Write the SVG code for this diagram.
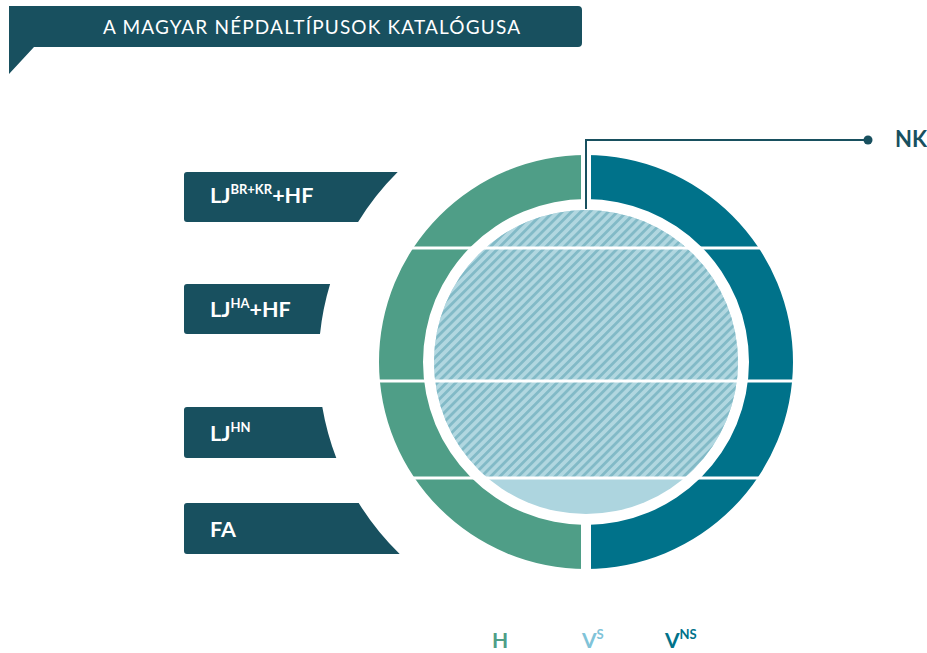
<svg xmlns="http://www.w3.org/2000/svg" width="927" height="653" viewBox="0 0 927 653">
<style>
.lbl{fill:#18505f}
.lt{font-family:Lato,"Open Sans","Liberation Sans",sans-serif;font-weight:bold;font-size:21.5px;fill:#ffffff}
.sup{font-size:13px}
.sep{fill:#ffffff}
.leg{font-family:Lato,"Open Sans","Liberation Sans",sans-serif;font-weight:bold;font-size:21px}
</style>
<defs>
<pattern id="hatch" patternUnits="userSpaceOnUse" width="6.5" height="6.5" patternTransform="rotate(45)">
<rect width="6.5" height="6.5" fill="#b1d7e0"/>
<rect x="0" y="0" width="2.8" height="6.5" fill="#82bac7"/>
</pattern>
<clipPath id="upper"><rect x="400" y="150" width="400" height="328"/></clipPath>
</defs>
<rect width="927" height="653" fill="#ffffff"/>
<g id="title">
<path d="M9,6 H578 Q582,6 582,10 V43 Q582,47 578,47 H34 L9,74 Z" fill="#18505f"/>
<text x="103" y="34" font-family="Lato,'Open Sans','Liberation Sans',sans-serif" font-size="19" fill="#ffffff" textLength="417" lengthAdjust="spacing">A MAGYAR NÉPDALTÍPUSOK KATALÓGUSA</text>
</g>
<g id="label-ljbrkr">
<path class="lbl" d="M187,172 H397.7 A267.5,267.5 0 0 0 358.1,222 H187 Q184,222 184,219 V175 Q184,172 187,172 Z"/>
<text class="lt" x="210" y="203">LJ<tspan class="sup" dy="-9">BR+KR</tspan><tspan dy="9">+HF</tspan></text>
</g>
<g id="label-ljha">
<path class="lbl" d="M187,284 H330.1 A267.5,267.5 0 0 0 320,334 H187 Q184,334 184,331 V287 Q184,284 187,284 Z"/>
<text class="lt" x="210" y="317">LJ<tspan class="sup" dy="-9">HA</tspan><tspan dy="9">+HF</tspan></text>
</g>
<g id="label-ljhn">
<path class="lbl" d="M187,407 H322.3 A267.5,267.5 0 0 0 336.3,458 H187 Q184,458 184,455 V410 Q184,407 187,407 Z"/>
<text class="lt" x="210" y="441">LJ<tspan class="sup" dy="-9">HN</tspan></text>
</g>
<g id="label-fa">
<path class="lbl" d="M187,503 H358.7 A267.5,267.5 0 0 0 399.7,554 H187 Q184,554 184,551 V506 Q184,503 187,503 Z"/>
<text class="lt" x="210" y="537">FA</text>
</g>
<g id="ring-h">
<path d="M586,155 A207,207 0 0 0 586,569 L586,525 A163,163 0 0 1 586,199 Z" fill="#4f9e87"/>
</g>
<g id="ring-vns">
<path d="M586,155 A207,207 0 0 1 586,569 L586,525 A163,163 0 0 0 586,199 Z" fill="#00728a"/>
</g>
<g id="core">
<circle cx="586" cy="362" r="152" fill="#add5df"/>
<circle cx="586" cy="362" r="152" fill="url(#hatch)" clip-path="url(#upper)"/>
</g>
<g id="separators">
<rect class="sep" x="581" y="148" width="10" height="54"/>
<rect class="sep" x="581" y="518" width="10" height="56"/>
<rect class="sep" x="370" y="246.5" width="440" height="3"/>
<rect class="sep" x="370" y="379.5" width="440" height="3"/>
<rect class="sep" x="370" y="476.5" width="440" height="3"/>
</g>
<g id="connectors">
<polyline points="586,209 586,140 868,140" fill="none" stroke="#18505f" stroke-width="2"/>
<circle cx="868" cy="140" r="4.5" fill="#18505f"/>
</g>
<g id="nk">
<text x="895" y="147" font-family="Lato,'Open Sans','Liberation Sans',sans-serif" font-weight="bold" font-size="22" fill="#18505f">NK</text>
</g>
<g id="legend">
<text class="leg" x="492" y="648" fill="#4f9e87">H</text>
<text class="leg" x="582" y="648" fill="#80c3d8">V<tspan font-size="13" dy="-9">S</tspan></text>
<text class="leg" x="665" y="648" fill="#00728a">V<tspan font-size="13" dy="-9">NS</tspan></text>
</g>
</svg>
